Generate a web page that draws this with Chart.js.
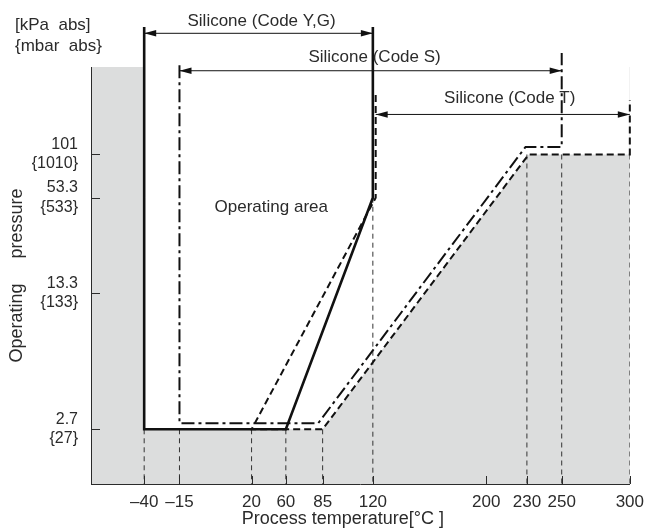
<!DOCTYPE html>
<html>
<head>
<meta charset="utf-8">
<script src="https://cdn.jsdelivr.net/npm/chart.js@4.4.1/dist/chart.umd.min.js"></script>
<style>
  html, body { margin: 0; padding: 0; background: #fff; }
  #chart { display: block; }
</style>
</head>
<body>
<canvas id="chart" width="652" height="531"></canvas>
<script>
/************************ chart values *********************************/
const tempTicks = [-40, -15, 20, 60, 85, 120, 200, 230, 250, 300];
const pressureTicks = [2.7, 13.3, 53.3, 101];
const pressureLabels = [["2.7", "{27}"], ["13.3", "{133}"], ["53.3", "{533}"], ["101", "{1010}"]];

// Silicone (Code Y,G) - solid boundary
const ygTemp = [-40, -40, 60, 120, 120];
const ygPress = [670, 2.7, 2.7, 53.3, 670];

// Silicone (Code S) - dash-dot boundary
const sTemp = [-15, -15, 82, 229, 250, 250];
const sPress = [380, 2.9, 2.9, 113, 113, 455];

// Silicone (Code T) - dashed boundary
const tTemp = [122, 122, 20, 85, 231, 300, 300];
const tPress = [244, 53.3, 2.7, 2.7, 101, 101, 227];

// white "operating area" lower edge (grey below it)
const areaTemp = [-40, 85, 231, 300];
const areaPress = [2.7, 2.7, 101, 101];
const areaLabel = "Operating area";

// temperature range arrows over the chart
const rangeNames = ["Silicone (Code Y,G)", "Silicone (Code S)", "Silicone (Code T)"];
const rangeFrom = [-40, -15, 122];
const rangeTo = [120, 250, 300];
const rangeLevel = [610, 350, 183];

// thin dashed guide lines down to the axis
const guideTemps = [-40, -15, 20, 60, 85, 120, 230, 250, 300];
const guideTops = [2.7, 2.7, 2.7, 2.7, 2.7, 53.3, 101, 101, 101];

/************************ scale (drawing is not to scale) *********************/
// value -> fraction of axis length, interpolated between the printed ticks
const scaleKnots = {
  x: [[-78, 0], [-40, 0.0987], [-15, 0.1642], [20, 0.298], [60, 0.3616], [85, 0.4299],
      [120, 0.5231], [200, 0.7334], [230, 0.809], [250, 0.8736], [300, 1]],
  y: [[1.4, 0], [2.7, 0.1312], [13.3, 0.4573], [53.3, 0.6866], [101, 0.7902], [370, 1]],
};
const scaleLog = { x: false, y: true };

class PiecewiseScale extends Chart.LinearScale {
  static id = "piecewise";
  static defaults = {};
  _f(v) { return scaleLog[this.id] ? Math.log10(v) : v; }
  getPixelForValue(v) {
    if (v === null || v === undefined || isNaN(v)) return NaN;
    const k = scaleKnots[this.id];
    let i = 0;
    while (i < k.length - 2 && v > k[i + 1][0]) i++;
    const a = this._f(k[i][0]), b = this._f(k[i + 1][0]);
    const d = k[i][1] + (this._f(v) - a) / (b - a) * (k[i + 1][1] - k[i][1]);
    return this.getPixelForDecimal(d);
  }
  getValueForPixel(p) {
    const k = scaleKnots[this.id];
    const d = this.getDecimalForPixel(p);
    let i = 0;
    while (i < k.length - 2 && d > k[i + 1][1]) i++;
    const a = this._f(k[i][0]), b = this._f(k[i + 1][0]);
    const t = a + (d - k[i][1]) / (k[i + 1][1] - k[i][1]) * (b - a);
    return scaleLog[this.id] ? Math.pow(10, t) : t;
  }
}
Chart.register(PiecewiseScale);

/************************ helpers / plugins *********************************/
const FONT = '"Liberation Sans", Arial, Helvetica, sans-serif';
const INK = "#2b2b2b";

function pairs(xs, ys) {
  return xs.map((x, i) => ({ x: x, y: ys[i] }));
}

const guideData = [];
guideTemps.forEach((t, i) => {
  guideData.push({ x: t, y: guideTops[i] }, { x: t, y: 1.4 }, { x: t, y: null });
});

const plotBackground = {
  id: "plotBackground",
  beforeDraw(chart) {
    const { ctx, chartArea: a } = chart;
    ctx.save();
    ctx.fillStyle = "#dcdddd";
    ctx.fillRect(a.left, a.top, a.right - a.left, a.bottom - a.top);
    ctx.restore();
  },
};

const innerTicks = {
  id: "innerTicks",
  afterDatasetsDraw(chart) {
    const { ctx, chartArea, scales } = chart;
    ctx.save();
    ctx.strokeStyle = INK;
    ctx.lineWidth = 1;
    ctx.beginPath();
    pressureTicks.forEach((v) => {
      const py = Math.round(scales.y.getPixelForValue(v)) + 0.5;
      ctx.moveTo(chartArea.left, py);
      ctx.lineTo(chartArea.left + 9, py);
    });
    tempTicks.forEach((v) => {
      const px = Math.round(scales.x.getPixelForValue(v)) + 0.5;
      ctx.moveTo(px, chartArea.bottom);
      ctx.lineTo(px, chartArea.bottom - 8);
    });
    ctx.stroke();
    ctx.restore();
  },
};

const arrowHeads = {
  id: "arrowHeads",
  afterDatasetsDraw(chart) {
    const ctx = chart.ctx;
    ctx.save();
    ctx.fillStyle = "#111";
    chart.data.datasets.forEach((ds, i) => {
      if (!ds.arrowEnds) return;
      const pts = chart.getDatasetMeta(i).data;
      const ends = [[pts[0], -1], [pts[pts.length - 1], 1]];
      ends.forEach(([p, dir]) => {
        ctx.beginPath();
        ctx.moveTo(p.x, p.y);
        ctx.lineTo(p.x - dir * 12, p.y - 3.2);
        ctx.lineTo(p.x - dir * 12, p.y + 3.2);
        ctx.closePath();
        ctx.fill();
      });
    });
    ctx.restore();
  },
};

const annotText = {
  id: "annotText",
  afterDraw(chart, args, opts) {
    const { ctx, chartArea, scales } = chart;
    const x = scales.x, y = scales.y;
    ctx.save();
    ctx.fillStyle = INK;
    ctx.font = "17px " + FONT;
    ctx.textAlign = "center";
    ctx.textBaseline = "alphabetic";
    rangeNames.forEach((name, i) => {
      const xc = (x.getPixelForValue(rangeFrom[i]) + x.getPixelForValue(rangeTo[i])) / 2 + opts.nudge[i];
      ctx.fillText(name, xc, y.getPixelForValue(rangeLevel[i]) - opts.lift[i]);
    });
    ctx.fillText(areaLabel, x.getPixelForValue(opts.areaAt[0]), y.getPixelForValue(opts.areaAt[1]));
    ctx.textAlign = "left";
    ctx.fillText("[kPa  abs]", chartArea.left - 76, chartArea.top - 37);
    ctx.fillText("{mbar  abs}", chartArea.left - 76, chartArea.top - 16);
    ctx.restore();
  },
};

/************************ chart *********************************/
const ctx = document.getElementById("chart").getContext("2d");
const myChart = new Chart(ctx, {
  type: "line",
  data: {
    datasets: [
      { label: "area", data: pairs(areaTemp, areaPress), fill: "end", backgroundColor: "#ffffff",
        borderWidth: 0, order: 10 },
      { label: "guides", data: guideData, borderColor: "#333", borderWidth: 1, borderDash: [5, 4],
        spanGaps: false, order: 5 },
      { label: "Code Y,G", data: pairs(ygTemp, ygPress), borderColor: "#111", borderWidth: 2.6,
        clip: false, order: 1 },
      { label: "Code S", data: pairs(sTemp, sPress), borderColor: "#111", borderWidth: 2,
        borderDash: [13, 4, 3, 4], clip: false, order: 2 },
      { label: "Code T", data: pairs(tTemp, tPress), borderColor: "#111", borderWidth: 2,
        borderDash: [7, 4], clip: false, order: 3 },
    ].concat(rangeNames.map((name, i) => ({
      label: name,
      data: [{ x: rangeFrom[i], y: rangeLevel[i] }, { x: rangeTo[i], y: rangeLevel[i] }],
      borderColor: "#111", borderWidth: 1, clip: false, arrowEnds: true, order: 0,
    }))),
  },
  options: {
    responsive: false,
    animation: false,
    events: [],
    layout: { padding: { top: 67, right: 19, left: 0, bottom: 0 } },
    elements: {
      point: { radius: 0 },
      line: { tension: 0, borderJoinStyle: "miter", fill: false },
    },
    plugins: {
      legend: { display: false },
      tooltip: { enabled: false },
      annotText: { nudge: [3, 4, 7], lift: [7, 9, 11], areaAt: [43, 43] },
    },
    scales: {
      x: {
        type: "piecewise",
        min: -78,
        max: 300,
        afterBuildTicks: (s) => { s.ticks = tempTicks.map((v) => ({ value: v })); },
        afterFit: (s) => { s.height = 47; },
        grid: { display: false, drawTicks: false },
        border: { display: true, color: INK, width: 1 },
        ticks: {
          autoSkip: false, maxRotation: 0, padding: 8, color: INK,
          font: { family: FONT, size: 17 },
          callback: (v) => String(v).replace("-", "\u2013"),
        },
        title: {
          display: true, text: "Process temperature[\u00b0C ]       ", color: INK,
          font: { family: FONT, size: 18 }, padding: { top: 0, bottom: 1 },
        },
      },
      y: {
        type: "piecewise",
        min: 1.4,
        max: 370,
        afterBuildTicks: (s) => { s.ticks = pressureTicks.map((v) => ({ value: v })); },
        afterFit: (s) => { s.width = 91; },
        grid: { display: false, drawTicks: false },
        border: { display: true, color: INK, width: 1 },
        ticks: {
          autoSkip: false, padding: 13, color: INK,
          font: { family: FONT, size: 16 },
          callback: (v, i) => pressureLabels[i],
        },
        title: {
          display: true, text: "Operating     pressure", color: INK,
          font: { family: FONT, size: 18 }, padding: { top: 6, bottom: 0 },
        },
      },
    },
  },
  plugins: [plotBackground, innerTicks, arrowHeads, annotText],
});
</script>
</body>
</html>
